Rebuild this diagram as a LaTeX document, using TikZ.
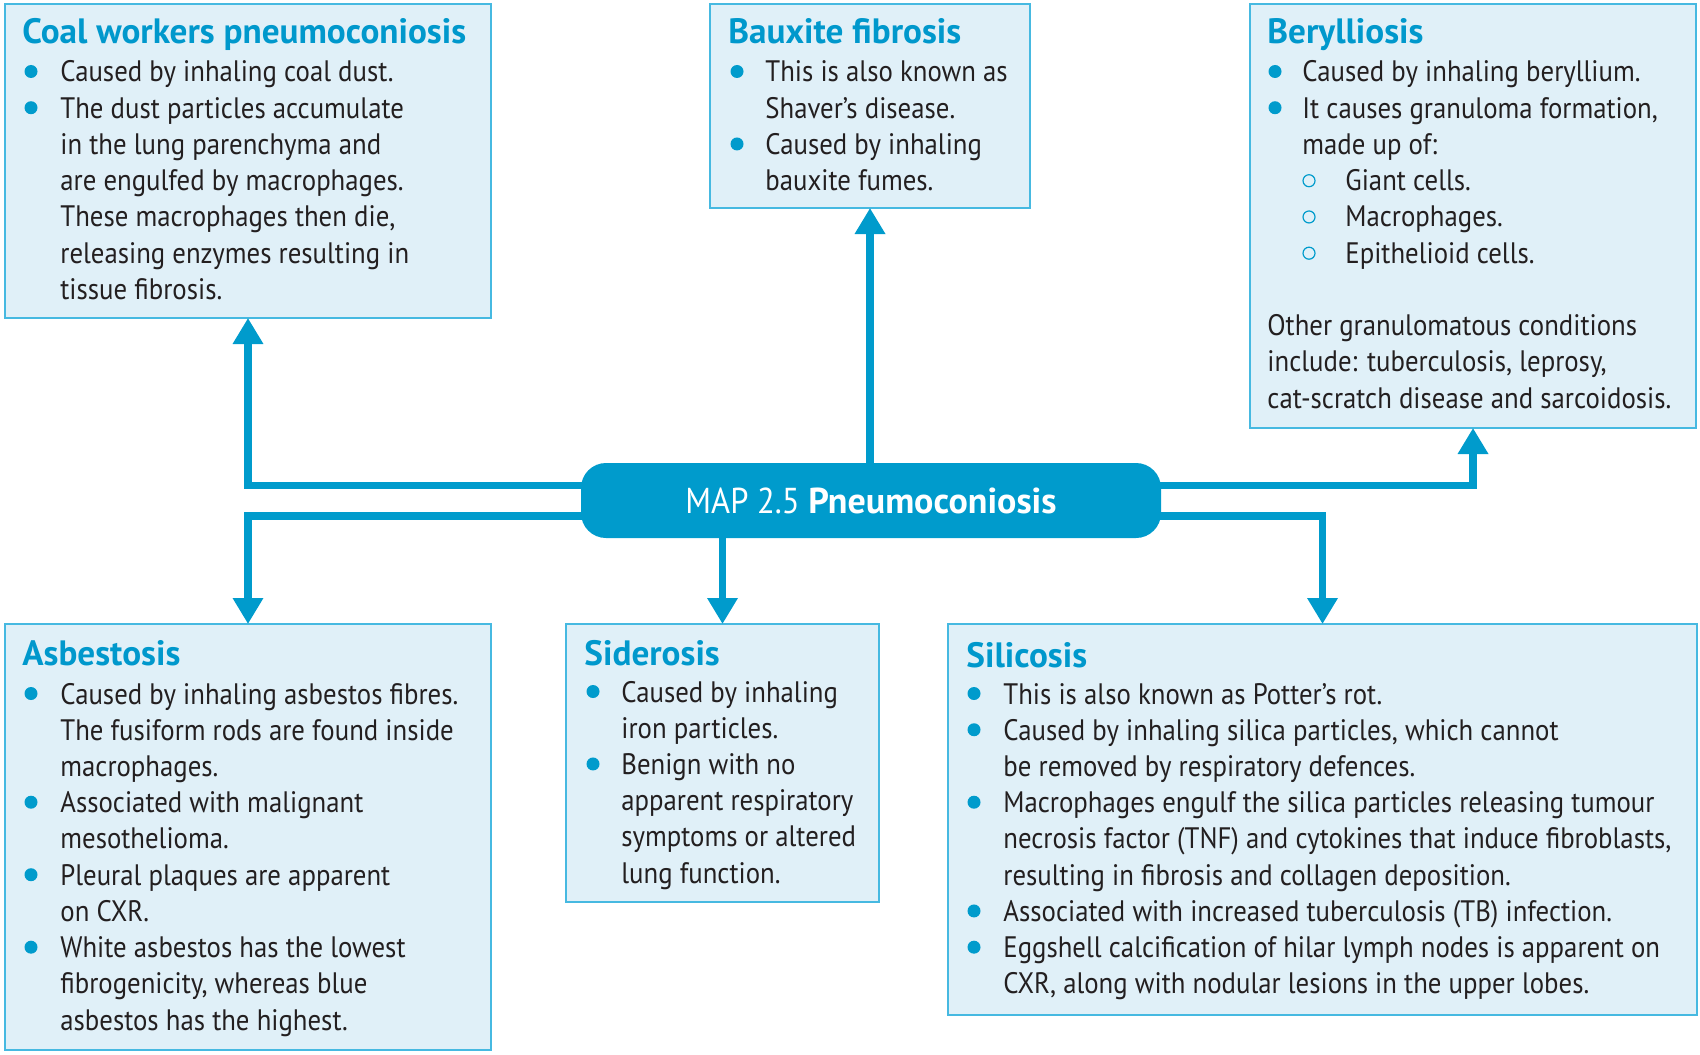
\documentclass[tikz,border=0pt]{standalone}
\usepackage{fontspec}
\setmainfont{PT Sans}[FakeStretch=0.905]
\newfontfamily\headfont{PT Sans}[FakeStretch=1.0]
\usetikzlibrary{arrows.meta}

\definecolor{mapblue}{RGB}{0,155,204}
\definecolor{boxfill}{RGB}{224,240,248}
\definecolor{boxline}{RGB}{70,185,225}
\definecolor{ttlblue}{RGB}{0,152,204}
\definecolor{bodytext}{RGB}{35,31,32}

\newcommand\bodysize{\fontsize{14.8pt}{18.12pt}\selectfont}
\newcommand\titlesize{\headfont\fontsize{17.6pt}{20pt}\selectfont\bfseries}
\newcommand\hubsize{\fontsize{18pt}{20pt}\selectfont}

\tikzset{
  panel/.style={draw=boxline, line width=1pt, fill=boxfill, outer sep=0pt,
    inner sep=0pt, anchor=north west},
  ttl/.style={anchor=base west, inner sep=0pt, font=\titlesize, text=ttlblue},
  body/.style={anchor=base west, inner sep=0pt, font=\bodysize, text=bodytext},
  dot/.style={fill=mapblue},
  ring/.style={draw=mapblue, line width=0.6pt},
  conn/.style={draw=mapblue, line width=3.75pt,
    -{Triangle[width=14.5pt,length=13pt]}},
  hub/.style={fill=mapblue, rounded corners=12.5pt, inner sep=0pt,
    minimum width=290pt, minimum height=37.5pt, text=white, font=\hubsize},
}

\begin{document}
\begin{tikzpicture}[x=0.5pt, y=-0.5pt]
\useasboundingbox (0,0) rectangle (1700,1054);

% ---- panels ----
\node[panel, minimum width=243pt, minimum height=157pt] (coal) at (5,4) {};
\node[panel, minimum width=160pt, minimum height=102pt] (baux) at (710,4) {};
\node[panel, minimum width=223pt, minimum height=212pt] (bery) at (1250,4) {};
\node[panel, minimum width=243pt, minimum height=213pt] (asb) at (5,624) {};
\node[panel, minimum width=156.5pt, minimum height=139pt] (sid) at (566,624) {};
\node[panel, minimum width=374.5pt, minimum height=195.5pt] (sil) at (948,624) {};

% ---- hub ----
\coordinate (hubc) at (871,500.5);

% ---- connectors ----
\draw[conn] ([xshift=12pt,yshift=7.5pt]hubc -| 581,0) -| (coal.south);
\draw[conn] ([xshift=12pt,yshift=-7.75pt]hubc -| 581,0) -| (asb.north);
\draw[conn] (hubc -| baux.south) -- (baux.south);
\draw[conn] (hubc -| sid.north) -- (sid.north);
\draw[conn] ([xshift=-12pt,yshift=7.5pt]hubc -| 1161,0) -| (bery.south);
\draw[conn] ([xshift=-12pt,yshift=-7.75pt]hubc -| 1161,0) -| (sil.north);

\node[hub] (hub) at (hubc) {MAP 2.5 {\headfont\bfseries Pneumoconiosis}};

% ---- Coal workers pneumoconiosis ----
\node[ttl] (coalH) at (22,44) {Coal workers pneumoconiosis};
\node[body] (coalT) at (60,82) {\begin{tabular}[t]{@{}l@{}}
Caused by inhaling coal dust.\\
The dust particles accumulate\\
in the lung parenchyma and\\
are engulfed by macrophages.\\
These macrophages then die,\\
releasing enzymes resulting in\\
tissue fibrosis.
\end{tabular}};
\foreach \k in {0,1} \fill[dot] (31,{71.5+36.24*\k}) circle (3.25pt);

% ---- Bauxite fibrosis ----
\node[ttl] (bauxH) at (728,44) {Bauxite fibrosis};
\node[body] (bauxT) at (765,82) {\begin{tabular}[t]{@{}l@{}}
This is also known as\\
Shaver’s disease.\\
Caused by inhaling\\
bauxite fumes.
\end{tabular}};
\foreach \k in {0,2} \fill[dot] (737,{71.5+36.24*\k}) circle (3.25pt);

% ---- Berylliosis ----
\node[ttl] (beryH) at (1267,44) {Berylliosis};
\node[body] (beryT) at (1302,82) {\begin{tabular}[t]{@{}l@{}}
Caused by inhaling beryllium.\\
It causes granuloma formation,\\
made up of:\\
\hspace*{21.5pt}Giant cells.\\
\hspace*{21.5pt}Macrophages.\\
\hspace*{21.5pt}Epithelioid cells.\\
\\
\hspace*{-17.5pt}Other granulomatous conditions\\
\hspace*{-17.5pt}include: tuberculosis, leprosy,\\
\hspace*{-17.5pt}cat-scratch disease and sarcoidosis.
\end{tabular}};
\foreach \k in {0,1} \fill[dot] (1275,{71.5+36.24*\k}) circle (3.25pt);
\foreach \k in {3,4,5} \draw[ring] (1309,{72+36.24*\k}) circle (3pt);

% ---- Asbestosis ----
\node[ttl] (asbH) at (22,665) {Asbestosis};
\node[body] (asbT) at (60,704) {\begin{tabular}[t]{@{}l@{}}
Caused by inhaling asbestos fibres.\\
The fusiform rods are found inside\\
macrophages.\\
Associated with malignant\\
mesothelioma.\\
Pleural plaques are apparent\\
on CXR.\\
White asbestos has the lowest\\
fibrogenicity, whereas blue\\
asbestos has the highest.
\end{tabular}};
\foreach \k in {0,3,5,7} \fill[dot] (31,{693.5+36.24*\k}) circle (3.25pt);

% ---- Siderosis ----
\node[ttl] (sidH) at (584,665) {Siderosis};
\node[body] (sidT) at (621,702) {\begin{tabular}[t]{@{}l@{}}
Caused by inhaling\\
iron particles.\\
Benign with no\\
apparent respiratory\\
symptoms or altered\\
lung function.
\end{tabular}};
\foreach \k in {0,2} \fill[dot] (593,{691.5+36.24*\k}) circle (3.25pt);

% ---- Silicosis ----
\node[ttl] (silH) at (966,667) {Silicosis};
\node[body] (silT) at (1003,704) {\begin{tabular}[t]{@{}l@{}}
This is also known as Potter’s rot.\\
Caused by inhaling silica particles, which cannot\\
be removed by respiratory defences.\\
Macrophages engulf the silica particles releasing tumour\\
necrosis factor (TNF) and cytokines that induce fibroblasts,\\
resulting in fibrosis and collagen deposition.\\
Associated with increased tuberculosis (TB) infection.\\
Eggshell calcification of hilar lymph nodes is apparent on\\
CXR, along with nodular lesions in the upper lobes.
\end{tabular}};
\foreach \k in {0,1,3,6,7} \fill[dot] (974,{693.5+36.24*\k}) circle (3.25pt);
\end{tikzpicture}
\end{document}
